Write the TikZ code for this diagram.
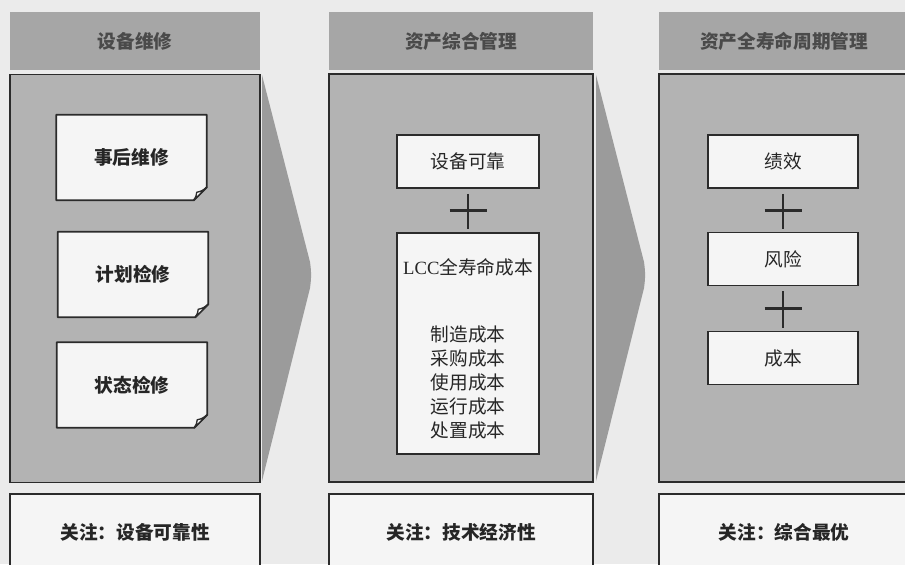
\documentclass[tikz,border=0pt]{standalone}
\usepackage{fontspec}
\setmainfont{Liberation Serif}
\newfontfamily\cjk{Noto Sans CJK SC}
\usetikzlibrary{calc}
\definecolor{bgc}{HTML}{EBEBEB}
\definecolor{hdrc}{HTML}{A6A6A6}
\definecolor{panelc}{HTML}{B3B3B3}
\definecolor{chevc}{HTML}{9B9B9B}
\definecolor{boxc}{HTML}{F5F5F5}
\definecolor{linec}{HTML}{2B2B2B}
\definecolor{hdrtext}{HTML}{4A4A4A}
\definecolor{txtc}{HTML}{262626}
\newcommand\foldcorner[1]{%
  \filldraw[fill=boxc,draw=linec,line width=1.4pt,line join=round]
    (#1.north west) -- (#1.north east) -- ([yshift=9.75pt]#1.south east)
    -- ([xshift=-9.75pt]#1.south east) -- (#1.south west) -- cycle;
  \filldraw[fill=white,draw=linec,line width=1pt,line join=round]
    ([yshift=9.75pt]#1.south east) to[bend left=15] ([xshift=-7.5pt,yshift=6pt]#1.south east)
    to[bend left=15] ([xshift=-9.75pt]#1.south east) -- cycle;
}
\begin{document}
\begin{tikzpicture}[x=0.75pt,y=-0.75pt,
  cjkfont/.style={font=\cjk\fontsize{14}{18}\selectfont},
  hdr/.style={cjkfont, font=\cjk\bfseries\fontsize{14}{18}\selectfont, fill=hdrc, draw=none, text=hdrtext,
    minimum height=43.5pt, inner sep=0pt},
  panel/.style={fill=panelc, draw=linec, line width=1.4pt, minimum height=306pt, inner sep=0pt},
  foldbox/.style={cjkfont, font=\cjk\bfseries\fontsize{14}{18}\selectfont, text=txtc, draw=none, fill=none,
    minimum width=112.5pt, minimum height=63.75pt, inner sep=0pt},
  plainbox/.style={cjkfont, text=txtc, fill=boxc, draw=linec, line width=1.4pt,
    minimum height=39.75pt, inner sep=0pt},
  foot/.style={cjkfont, font=\cjk\bfseries\fontsize{14}{18}\selectfont, text=txtc, fill=boxc, draw=none,
    minimum height=57pt, inner sep=0pt},
  plusline/.style={draw=linec, line width=2.2pt},
  chev/.style={fill=chevc, draw=none}
]
\useasboundingbox (0,0) rectangle (905,564);
\clip (0,0) rectangle (905,564);
\fill[bgc] (0,0) rectangle (905,564);

% chevrons
\fill[chev] (262,75) -- (310,262) to[bend left=8] (310,288) -- (262,481) -- cycle;
\fill[chev] (596,75) -- (644,262) to[bend left=8] (644,288) -- (596,481) -- cycle;

% column 1
\node[hdr, minimum width=187.5pt] (h1) at (135,41) {设备维修};
\node[panel, minimum width=187.5pt] (p1) at (135,278.5) {};
\node[foldbox] (b11) at (131.5,157.5) {};
\node[foldbox] (b12) at (133,274.5) {};
\node[foldbox] (b13) at (132,385) {};
\foldcorner{b11}
\foldcorner{b12}
\foldcorner{b13}
\node[foldbox] (t11) at (b11.center) {事后维修};
\node[foldbox] (t12) at (b12.center) {计划检修};
\node[foldbox] (t13) at (b13.center) {状态检修};
\node[foot, minimum width=187.5pt] (f1) at (135,532) {关注：设备可靠性};
\draw[linec, line width=1.4pt] (f1.south west) |- (f1.north east) -- (f1.south east);

% column 2
\node[hdr, minimum width=198pt] (h2) at (461,41) {资产综合管理};
\node[panel, minimum width=198pt] (p2) at (461,278) {};
\node[plainbox, minimum width=106.5pt] (b21) at (468,161.5) {设备可靠};
\node[plainbox, minimum width=106.5pt, minimum height=165.75pt] (b22) at (468,343.5) {};
\node[cjkfont, text=txtc, inner sep=0pt] (t22a) at (468,267) {{\rmfamily LCC}全寿命成本};
\node[cjkfont, text=txtc, inner sep=0pt, align=center] (t22b) at (468,382)
  {制造成本\\采购成本\\使用成本\\运行成本\\处置成本};
\draw[plusline] ([yshift=-3.75pt]b21.south) -- ([yshift=2.25pt]b22.north);
\draw[plusline] ($(b21.south)!0.5!(b22.north)$) +(-18.5,0) -- +(18.5,0);
\node[foot, minimum width=198pt] (f2) at (461,532) {关注：技术经济性};
\draw[linec, line width=1.4pt] (f2.south west) |- (f2.north east) -- (f2.south east);

% column 3
\node[hdr, minimum width=187.5pt] (h3) at (784,41) {资产全寿命周期管理};
\node[panel, minimum width=187.5pt] (p3) at (784,278) {};
\node[plainbox, minimum width=112.5pt] (b31) at (783,161.5) {绩效};
\node[plainbox, minimum width=112.5pt] (b32) at (783,259) {风险};
\node[plainbox, minimum width=112.5pt] (b33) at (783,358) {成本};
\draw[plusline] ([yshift=-3.75pt]b31.south) -- ([yshift=2.25pt]b32.north);
\draw[plusline] ($(b31.south)!0.5!(b32.north)$) +(-18.5,0) -- +(18.5,0);
\draw[plusline] ([yshift=-3.75pt]b32.south) -- ([yshift=2.25pt]b33.north);
\draw[plusline] ($(b32.south)!0.5!(b33.north)$) +(-18.5,0) -- +(18.5,0);
\node[foot, minimum width=187.5pt] (f3) at (784,532) {关注：综合最优};
\draw[linec, line width=1.4pt] (f3.south west) |- (f3.north east) -- (f3.south east);
\end{tikzpicture}
\end{document}
